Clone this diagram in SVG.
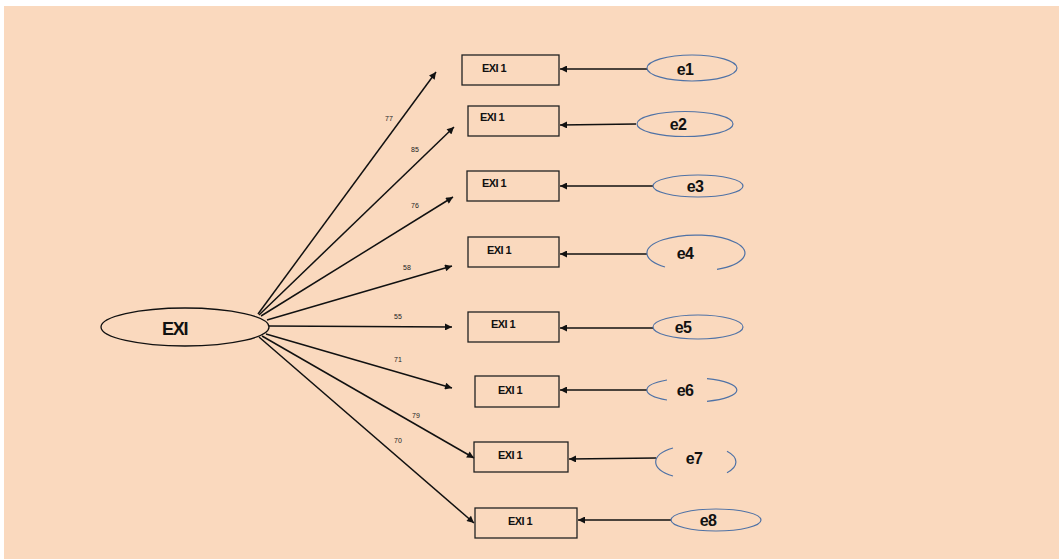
<svg xmlns="http://www.w3.org/2000/svg" width="1059" height="559" viewBox="0 0 1059 559">
<style>
.bg{fill:#FAD9BE}
.box{fill:none;stroke:#222;stroke-width:1.3}
.lat{fill:none;stroke:#111;stroke-width:1.3}
.err{fill:none;stroke:#4F72A6;stroke-width:1.2}
.edge{stroke:#111;stroke-width:1.5;fill:none}
.bl{font-family:"Liberation Sans",Arial,sans-serif;font-weight:bold;font-size:11px;letter-spacing:-0.6px;fill:#111}
.el{font-family:"Liberation Sans",Arial,sans-serif;font-weight:bold;font-size:16px;letter-spacing:-0.6px;fill:#111;text-anchor:middle;dominant-baseline:central}
.num{font-family:"Liberation Sans",Arial,sans-serif;font-size:7px;fill:#222;text-anchor:middle}
.big{font-family:"Liberation Sans",Arial,sans-serif;font-weight:bold;font-size:18px;letter-spacing:-1.2px;fill:#111}
</style>
<defs>
<marker id="ah" viewBox="0 0 10 10" refX="10" refY="5" markerWidth="10" markerHeight="7" markerUnits="userSpaceOnUse" orient="auto">
<path d="M0,0 L10,5 L0,10 z" fill="#111"/>
</marker>
</defs>
<rect x="0" y="0" width="1059" height="559" fill="#ffffff"/>
<rect class="bg" x="4" y="6" width="1055" height="553"/>

<g id="connectors">
<line class="edge" x1="258" y1="314" x2="436" y2="72" marker-end="url(#ah)"/>
<line class="edge" x1="259" y1="315" x2="454" y2="127" marker-end="url(#ah)"/>
<line class="edge" x1="261" y1="316" x2="453" y2="197" marker-end="url(#ah)"/>
<line class="edge" x1="267" y1="320" x2="452" y2="266" marker-end="url(#ah)"/>
<line class="edge" x1="269" y1="326" x2="452" y2="327" marker-end="url(#ah)"/>
<line class="edge" x1="266" y1="334" x2="452" y2="388" marker-end="url(#ah)"/>
<line class="edge" x1="262" y1="336" x2="474" y2="458" marker-end="url(#ah)"/>
<line class="edge" x1="259" y1="337" x2="474" y2="523" marker-end="url(#ah)"/>
<line class="edge" x1="647" y1="69" x2="560" y2="69" marker-end="url(#ah)"/>
<line class="edge" x1="636" y1="124" x2="560" y2="125" marker-end="url(#ah)"/>
<line class="edge" x1="653" y1="186" x2="560" y2="186" marker-end="url(#ah)"/>
<line class="edge" x1="647" y1="254" x2="560" y2="254" marker-end="url(#ah)"/>
<line class="edge" x1="653" y1="328" x2="560" y2="328" marker-end="url(#ah)"/>
<line class="edge" x1="647" y1="390" x2="560" y2="390" marker-end="url(#ah)"/>
<line class="edge" x1="656" y1="458" x2="569" y2="459" marker-end="url(#ah)"/>
<line class="edge" x1="671" y1="520" x2="578" y2="520" marker-end="url(#ah)"/>
<text class="num" x="389" y="121">77</text>
<text class="num" x="415" y="152">85</text>
<text class="num" x="415" y="208">76</text>
<text class="num" x="407" y="270">58</text>
<text class="num" x="398" y="319">55</text>
<text class="num" x="398" y="362">71</text>
<text class="num" x="416" y="418">79</text>
<text class="num" x="398" y="443">70</text>
</g>

<g id="EXI">
<ellipse class="lat" cx="185" cy="327" rx="84" ry="19"/>
<text class="big" x="162" y="335">EXI</text>
</g>

<g id="box1"><rect class="box" x="462" y="55" width="97" height="30"/><text class="bl" x="482" y="72">EXI 1</text></g>
<g id="box2"><rect class="box" x="468" y="106" width="91" height="30"/><text class="bl" x="480" y="121">EXI 1</text></g>
<g id="box3"><rect class="box" x="467" y="171" width="92" height="30"/><text class="bl" x="482" y="187">EXI 1</text></g>
<g id="box4"><rect class="box" x="468" y="237" width="91" height="30"/><text class="bl" x="487" y="254">EXI 1</text></g>
<g id="box5"><rect class="box" x="468" y="312" width="91" height="30"/><text class="bl" x="491" y="328">EXI 1</text></g>
<g id="box6"><rect class="box" x="475" y="376" width="84" height="31"/><text class="bl" x="498" y="394">EXI 1</text></g>
<g id="box7"><rect class="box" x="474" y="442" width="94" height="30"/><text class="bl" x="498" y="459">EXI 1</text></g>
<g id="box8"><rect class="box" x="475" y="508" width="102" height="30"/><text class="bl" x="508" y="525">EXI 1</text></g>

<g id="e1"><ellipse class="err" cx="692" cy="68" rx="45" ry="13"/><text class="el" x="685" y="69">e1</text></g>
<g id="e2"><ellipse class="err" cx="685" cy="124" rx="48" ry="12.5"/><text class="el" x="678" y="124">e2</text></g>
<g id="e3"><ellipse class="err" cx="698" cy="186" rx="45" ry="11"/><text class="el" x="695" y="186">e3</text></g>
<g id="e4"><path class="err" d="M665 267 A49 18 0 1 1 717 269.3"/><text class="el" x="685" y="253">e4</text></g>
<g id="e5"><ellipse class="err" cx="698" cy="327" rx="45" ry="12"/><text class="el" x="683" y="327">e5</text></g>
<g id="e6"><path class="err" d="M667 380 A45 12 0 0 0 667 400 M707 378.7 A45 12 0 0 1 707 401.3"/><text class="el" x="685" y="390">e6</text></g>
<g id="e7"><path class="err" d="M673 448 A40 17 0 0 0 673 476 M727 451.3 A40 17 0 0 1 727 472.7"/><text class="el" x="694" y="458">e7</text></g>
<g id="e8"><ellipse class="err" cx="716" cy="520" rx="45" ry="11"/><text class="el" x="708" y="520">e8</text></g>
</svg>
